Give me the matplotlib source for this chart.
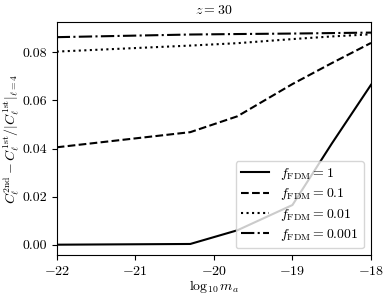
import matplotlib
matplotlib.use("Agg")
import matplotlib.pyplot as plt

plt.rcParams['mathtext.fontset'] = 'cm'
plt.rcParams['font.family'] = 'serif'
plt.rcParams['font.serif'] = ['cmr10', 'DejaVu Serif']
plt.rcParams['axes.formatter.use_mathtext'] = True
plt.rcParams['font.size'] = 10

log_ma = [-22.0, -20.3, -19.7, -19.0, -18.5, -18.0]
f1 = [0.0, 0.0003, 0.006, 0.0165, 0.042, 0.0665]
f01 = [0.0405, 0.0468, 0.0534, 0.0668, 0.0755, 0.0839]
f001 = [0.0803, 0.0828, 0.0838, 0.0855, 0.0866, 0.0875]
f0001 = [0.0863, 0.0874, 0.0876, 0.0878, 0.0880, 0.0882]

labels = [r'$f_{\rm FDM} = 1$', r'$f_{\rm FDM} = 0.1$',
          r'$f_{\rm FDM} = 0.01$', r'$f_{\rm FDM} = 0.001$']
series = [f1, f01, f001, f0001]
styles = ['-', '--', ':', '-.']

fig = plt.figure(figsize=(3.9, 2.98), dpi=100)
ax = fig.add_axes([0.1454, 0.1433, 0.9513 - 0.1454, 0.9262 - 0.1433])
for y, ls, lab in zip(series, styles, labels):
    ax.plot(log_ma, y, color='k', linestyle=ls, label=lab, lw=1.5)
ax.set_xlim(-22, -18)
ax.set_xticks([-22, -21, -20, -19, -18])
ax.set_yticks([0.0, 0.02, 0.04, 0.06, 0.08])
ax.yaxis.set_major_formatter(matplotlib.ticker.FormatStrFormatter('%.2f'))
ax.set_xlabel(r'$\log_{10} m_a$', labelpad=0)
ax.set_ylabel(r'$C_\ell^{\rm 2nd} - C_\ell^{\rm 1st}/|C_\ell^{\rm 1st}|_{\ell=4}$', labelpad=0)
ax.set_title(r'$z = 30$', fontsize=10)
ax.legend(loc='lower right', labelspacing=0.3)
fig.savefig('out.png', dpi=100)
